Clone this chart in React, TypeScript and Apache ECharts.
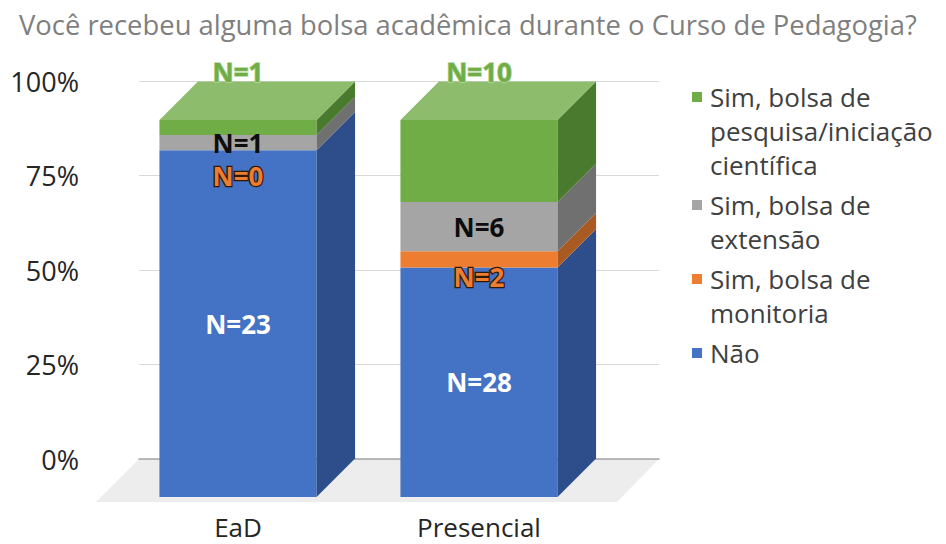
import React, { useEffect, useRef } from 'react';
import * as echarts from 'echarts';

const categories = ['EaD', 'Presencial'];
const naoCounts = [23, 28];
const monitoriaCounts = [0, 2];
const extensaoCounts = [1, 6];
const pesquisaCounts = [1, 10];
const yTickValues = [0, 25, 50, 75, 100];

const NAME_NAO = 'Não';
const NAME_MON = 'Sim, bolsa de monitoria';
const NAME_EXT = 'Sim, bolsa de extensão';
const NAME_PES = 'Sim, bolsa de pesquisa/iniciação científica';

const legendOrder = [NAME_PES, NAME_EXT, NAME_MON, NAME_NAO];
const legendLines: Record<string, string[]> = {
  [NAME_PES]: ['Sim, bolsa de', 'pesquisa/iniciação', 'científica'],
  [NAME_EXT]: ['Sim, bolsa de', 'extensão'],
  [NAME_MON]: ['Sim, bolsa de', 'monitoria'],
  [NAME_NAO]: ['Não'],
};

const FONT = 'Open Sans';
const DEPTH = 38.5;
const BAR_RATIO = 0.652;

type Seg = {
  name: string;
  counts: number[];
  front: string;
  side: string;
  top: string;
  label: { fill: string; stroke?: string; lineWidth?: number; mode: 'center' | 'end'; dy: number };
};

const segments: Seg[] = [
  { name: NAME_NAO, counts: naoCounts, front: '#4472C4', side: '#2E4E8B', top: '#5E88D4', label: { fill: '#FFFFFF', mode: 'center', dy: 0 } },
  { name: NAME_MON, counts: monitoriaCounts, front: '#ED7D31', side: '#A95A22', top: '#F29A5E', label: { fill: '#ED7D31', stroke: '#2E1806', lineWidth: 2.5, mode: 'end', dy: 26 } },
  { name: NAME_EXT, counts: extensaoCounts, front: '#A5A5A5', side: '#707070', top: '#BEBEBE', label: { fill: '#0D0D0D', mode: 'center', dy: 0 } },
  { name: NAME_PES, counts: pesquisaCounts, front: '#70AD47', side: '#4A7A2E', top: '#8CBC6C', label: { fill: '#70AD47', stroke: '#B5D89D', lineWidth: 1.5, mode: 'end', dy: -48 } },
];

function buildSeriesData() {
  const totals = categories.map((_, i) => segments.reduce((s, seg) => s + seg.counts[i], 0));
  const cum = categories.map(() => 0);
  return segments.map((seg) =>
    categories.map((_, i) => {
      const start = (cum[i] / totals[i]) * 100;
      cum[i] += seg.counts[i];
      const end = (cum[i] / totals[i]) * 100;
      return [i, start, end, seg.counts[i]];
    })
  );
}

export default function App() {
  const ref = useRef<HTMLDivElement>(null);

  useEffect(() => {
    if (!ref.current) return;
    const chart = echarts.init(ref.current, undefined, { renderer: 'svg' });
    const data = buildSeriesData();

    const rich: any = {
      g: { width: 8 },
      h: { width: 18 },
      t: { fontSize: 26, fontFamily: FONT, color: '#404040', lineHeight: 34 },
    };
    legendOrder.forEach((n, i) => {
      const seg = segments.find((s) => s.name === n)!;
      rich['m' + i] = { width: 10, height: 10, backgroundColor: seg.front };
    });

    const barSeries = segments.map((seg, si) => ({
      type: 'custom',
      name: seg.name,
      xAxisIndex: 1,
      yAxisIndex: 1,
      z: 3,
      data: data[si],
      encode: { x: 0, y: [1, 2] },
      renderItem: (params: any, api: any) => {
        const x = api.value(0);
        const y0 = api.value(1);
        const y1 = api.value(2);
        const n = api.value(3);
        const p0 = api.coord([x, y0]);
        const p1 = api.coord([x, y1]);
        const bw = api.size([1, 0])[0] * BAR_RATIO;
        const xl = p0[0] - bw / 2;
        const xr = p0[0] + bw / 2;
        const yb = p0[1];
        const yt = p1[1];
        const children: any[] = [];
        if (yb - yt > 0.01) {
          children.push({ type: 'rect', shape: { x: xl, y: yt, width: bw, height: yb - yt }, style: { fill: seg.front } });
          children.push({
            type: 'polygon',
            shape: { points: [[xr, yb], [xr, yt], [xr + DEPTH, yt - DEPTH], [xr + DEPTH, yb - DEPTH]] },
            style: { fill: seg.side },
          });
          if (y1 >= 99.999) {
            children.push({
              type: 'polygon',
              shape: { points: [[xl, yt], [xr, yt], [xr + DEPTH, yt - DEPTH], [xl + DEPTH, yt - DEPTH]] },
              style: { fill: seg.top },
            });
          }
        }
        const ly = seg.label.mode === 'center' ? (yb + yt) / 2 + seg.label.dy : yt + seg.label.dy;
        children.push({
          type: 'text',
          z2: 10,
          style: {
            text: 'N=' + n,
            x: p0[0],
            y: ly,
            align: 'center',
            verticalAlign: 'middle',
            fill: seg.label.fill,
            stroke: seg.label.stroke,
            lineWidth: seg.label.lineWidth || 0,
            fontSize: 26,
            fontWeight: 'bold',
            fontFamily: FONT,
          },
        });
        return { type: 'group', children };
      },
    }));

    const option: any = {
      animation: false,
      title: {
        text: 'Você recebeu alguma bolsa acadêmica durante o Curso de Pedagogia?',
        left: 14,
        top: 6,
        textStyle: { color: '#7F7F7F', fontSize: 27.4, fontWeight: 'normal', fontFamily: FONT },
      },
      legend: {
        data: legendOrder,
        orient: 'vertical',
        left: 687,
        top: 80,
        padding: 0,
        icon: 'none',
        itemWidth: 0,
        itemHeight: 0,
        itemGap: 6,
        selectedMode: false,
        formatter: (name: string) => {
          const idx = legendOrder.indexOf(name);
          return legendLines[name].map((l, i) => (i === 0 ? `{m${idx}|}{g|}{t|${l}}` : `{h|}{t|${l}}`)).join('\n');
        },
        textStyle: { fontSize: 26, fontFamily: FONT, color: '#404040', lineHeight: 34, rich },
      },
      grid: [
        { left: 139, top: 81, width: 520, height: 378 },
        { left: 117.5, top: 120, width: 482, height: 377 },
      ],
      xAxis: [
        {
          type: 'category',
          gridIndex: 0,
          data: categories,
          axisLabel: { show: false },
          axisTick: { show: false },
          axisLine: { show: true, lineStyle: { color: '#A6A6A6', width: 1.5 } },
        },
        {
          type: 'category',
          gridIndex: 1,
          data: categories,
          axisTick: { show: false },
          axisLine: { show: false },
          axisLabel: { fontSize: 26, fontFamily: FONT, color: '#262626', margin: 17 },
        },
      ],
      yAxis: [
        {
          type: 'value',
          gridIndex: 0,
          min: yTickValues[0],
          max: yTickValues[yTickValues.length - 1],
          interval: yTickValues[1] - yTickValues[0],
          axisLabel: { formatter: '{value}%', fontSize: 27, fontFamily: FONT, color: '#262626', margin: 60 },
          splitLine: { lineStyle: { color: '#D9D9D9', width: 1 } },
          axisLine: { show: false },
          axisTick: { show: false },
        },
        { type: 'value', gridIndex: 1, min: 0, max: 100, show: false, splitLine: { show: false } },
      ],
      series: [
        {
          type: 'custom',
          name: 'floor',
          xAxisIndex: 0,
          yAxisIndex: 0,
          z: -1,
          silent: true,
          data: [[0, 0]],
          renderItem: (params: any) => {
            const cs = params.coordSys;
            const by = cs.y + cs.height;
            return {
              type: 'polygon',
              shape: {
                points: [
                  [cs.x, by],
                  [cs.x + cs.width, by],
                  [cs.x + cs.width - 42, by + 43],
                  [cs.x - 43, by + 43],
                ],
              },
              style: { fill: '#EDEDED' },
            };
          },
        },
        ...barSeries,
      ],
    };
    chart.setOption(option);
    return () => chart.dispose();
  }, []);

  return <div ref={ref} style={{ position: 'fixed', left: 0, top: 0, width: 946, height: 544, background: '#fff' }} />;
}
